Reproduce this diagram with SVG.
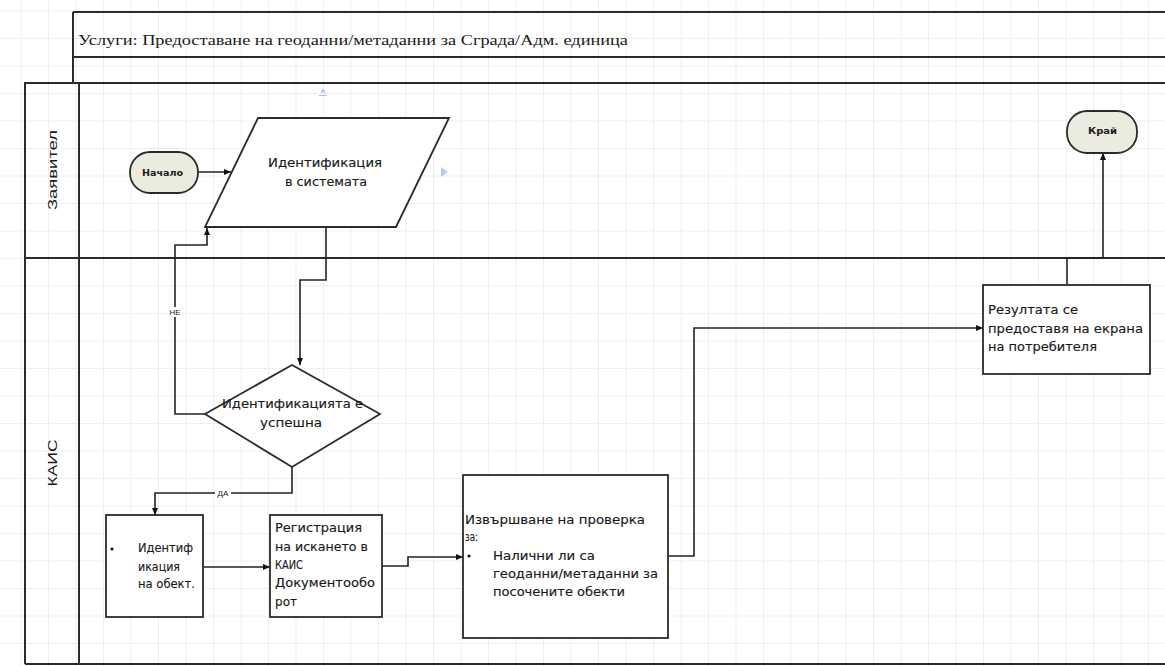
<svg xmlns="http://www.w3.org/2000/svg" width="1165" height="666" viewBox="0 0 1165 666">
  <style>
    .frame { fill: none; stroke: #2b2b2b; stroke-width: 2; }
    .shape { fill: #ffffff; stroke: #2b2b2b; stroke-width: 1.8; }
    .term { fill: #ecebdf; stroke: #2b2b2b; stroke-width: 1.8; }
    .edge { fill: none; stroke: #222222; stroke-width: 1.6; }
    .t { font-family: "DejaVu Sans", "Liberation Sans", sans-serif; font-size: 11.5px; fill: #1a1a1a; stroke: #1a1a1a; stroke-width: 0.15; }
    .tb { font-family: "DejaVu Sans", "Liberation Sans", sans-serif; font-size: 9px; font-weight: bold; fill: #1a1a1a; }
    .lane { font-family: "Liberation Sans", "DejaVu Sans", sans-serif; font-size: 13px; fill: #1a1a1a; }
    .lbl { font-family: "Liberation Sans", "DejaVu Sans", sans-serif; font-size: 8px; fill: #1a1a1a; }
    .title { font-family: "Liberation Serif", "DejaVu Serif", serif; font-size: 15px; fill: #1a1a1a; }
  </style>
  <defs>
    <pattern id="grid" patternUnits="userSpaceOnUse" x="20.5" y="10.5" width="27.5" height="27.5">
      <path d="M0,0 H27.5 M0,0 V27.5" fill="none" stroke="#e0e0e0" stroke-width="1"/>
    </pattern>
    <marker id="arrow" markerUnits="userSpaceOnUse" markerWidth="8" markerHeight="8" refX="7" refY="4" orient="auto">
      <path d="M0,1 L7,4 L0,7 Z" fill="#111111"/>
    </marker>
  </defs>

  <!-- page background with drawing grid -->
  <rect x="0" y="0" width="1165" height="666" fill="#ffffff"/>
  <rect x="0" y="0" width="1165" height="666" fill="url(#grid)"/>

  <!-- title block -->
  <g id="title">
    <path class="frame" d="M73,12 H1165 M73,57 H1165 M73,12 V83"/>
    <text class="title" x="78" y="45" textLength="550" lengthAdjust="spacingAndGlyphs">Услуги: Предоставане на геоданни/метаданни за Сграда/Адм. единица</text>
  </g>

  <!-- pool and lanes -->
  <g id="pool">
    <path class="frame" d="M24,83 H1165 M25,83 V664 M79,83 V664 M25,258 H1165 M25,664 H1165"/>
    <text class="lane" transform="translate(57,170) rotate(-90)" text-anchor="middle" textLength="80" lengthAdjust="spacingAndGlyphs">Заявител</text>
    <text class="lane" transform="translate(57,463) rotate(-90)" text-anchor="middle" textLength="47" lengthAdjust="spacingAndGlyphs">КАИС</text>
  </g>

  <!-- small connection-point glyphs of the editor -->
  <g id="handles" fill="#a9c1df" stroke="none">
    <path d="M323,88 L326,94 L323,92 L320,94 Z"/>
    <path d="M319,95 H327 V96 H319 Z"/>
    <path d="M441,167 L448,172 L441,177 Z" opacity="0.8"/>
  </g>

  <!-- connectors -->
  <g id="connectors">
    <path class="edge" d="M198,172 H231" marker-end="url(#arrow)"/>
    <path class="edge" d="M326,227 V280 H300 V365" marker-end="url(#arrow)"/>
    <path class="edge" d="M205,414 H175 V245 H207 V228" marker-end="url(#arrow)"/>
    <path class="edge" d="M292,467 V493 H155 V515" marker-end="url(#arrow)"/>
    <path class="edge" d="M203,567 H270" marker-end="url(#arrow)"/>
    <path class="edge" d="M382,566 H408 V557 H463" marker-end="url(#arrow)"/>
    <path class="edge" d="M668,556 H694 V328 H983" marker-end="url(#arrow)"/>
    <path class="edge" d="M1067,285 V258 H1103 V153" marker-end="url(#arrow)"/>
    <!-- branch labels -->
    <rect x="169" y="307" width="12" height="10" fill="#ffffff"/>
    <text class="lbl" x="175" y="315" text-anchor="middle">НЕ</text>
    <rect x="215" y="488" width="16" height="10" fill="#ffffff"/>
    <text class="lbl" x="223" y="496" text-anchor="middle">ДА</text>
  </g>

  <g id="start">
    <rect class="term" x="130" y="152" width="68" height="41" rx="20" ry="20"/>
    <text class="tb" x="162.5" y="175.5" text-anchor="middle" textLength="41" lengthAdjust="spacingAndGlyphs">Начало</text>
  </g>

  <g id="identify">
    <polygon class="shape" points="258,118 449,118 396,227 205,227"/>
    <text class="t" x="325" y="167" text-anchor="middle" textLength="114" lengthAdjust="spacingAndGlyphs">Идентификация</text>
    <text class="t" x="326" y="186" text-anchor="middle" textLength="82" lengthAdjust="spacingAndGlyphs">в системата</text>
  </g>

  <g id="decision">
    <polygon class="shape" points="292,365 380,414 292,467 205,414"/>
    <text class="t" x="292.5" y="408" text-anchor="middle" textLength="141" lengthAdjust="spacingAndGlyphs">Идентификацията е</text>
    <text class="t" x="291" y="427" text-anchor="middle" textLength="62" lengthAdjust="spacingAndGlyphs">успешна</text>
  </g>

  <g id="object">
    <rect class="shape" x="106" y="515" width="97" height="102"/>
    <circle cx="112" cy="549" r="1.6" fill="#111111"/>
    <text class="t" x="138" y="552" textLength="55" lengthAdjust="spacingAndGlyphs">Идентиф</text>
    <text class="t" x="138" y="571" textLength="42" lengthAdjust="spacingAndGlyphs">икация</text>
    <text class="t" x="138" y="588" textLength="57" lengthAdjust="spacingAndGlyphs">на обект.</text>
  </g>

  <g id="register">
    <rect class="shape" x="270" y="515" width="112" height="102"/>
    <text class="t" x="275" y="532" textLength="87" lengthAdjust="spacingAndGlyphs">Регистрация</text>
    <text class="t" x="275" y="551" textLength="93" lengthAdjust="spacingAndGlyphs">на искането в</text>
    <text class="t" x="275" y="569" textLength="28" lengthAdjust="spacingAndGlyphs">КАИС</text>
    <text class="t" x="275" y="587" textLength="100" lengthAdjust="spacingAndGlyphs">Документообо</text>
    <text class="t" x="275" y="606" textLength="22" lengthAdjust="spacingAndGlyphs">рот</text>
  </g>

  <g id="check">
    <rect class="shape" x="463" y="475" width="205" height="163"/>
    <text class="t" x="465" y="524" textLength="180" lengthAdjust="spacingAndGlyphs">Извършване на проверка</text>
    <text class="t" x="465" y="541" textLength="13" lengthAdjust="spacingAndGlyphs">за:</text>
    <circle cx="469" cy="556" r="1.6" fill="#111111"/>
    <text class="t" x="493" y="560" textLength="102" lengthAdjust="spacingAndGlyphs">Налични ли са</text>
    <text class="t" x="493" y="578" textLength="165" lengthAdjust="spacingAndGlyphs">геоданни/метаданни за</text>
    <text class="t" x="493" y="596" textLength="132" lengthAdjust="spacingAndGlyphs">посочените обекти</text>
  </g>

  <g id="result">
    <rect class="shape" x="983" y="285" width="167" height="89"/>
    <text class="t" x="988" y="314" textLength="90" lengthAdjust="spacingAndGlyphs">Резултата се</text>
    <text class="t" x="988" y="333" textLength="155" lengthAdjust="spacingAndGlyphs">предоставя на екрана</text>
    <text class="t" x="988" y="351" textLength="109" lengthAdjust="spacingAndGlyphs">на потребителя</text>
  </g>

  <g id="end">
    <rect class="term" x="1067" y="111" width="70" height="42" rx="20" ry="20"/>
    <text class="tb" x="1102.5" y="133.5" text-anchor="middle" textLength="29" lengthAdjust="spacingAndGlyphs">Край</text>
  </g>
</svg>
